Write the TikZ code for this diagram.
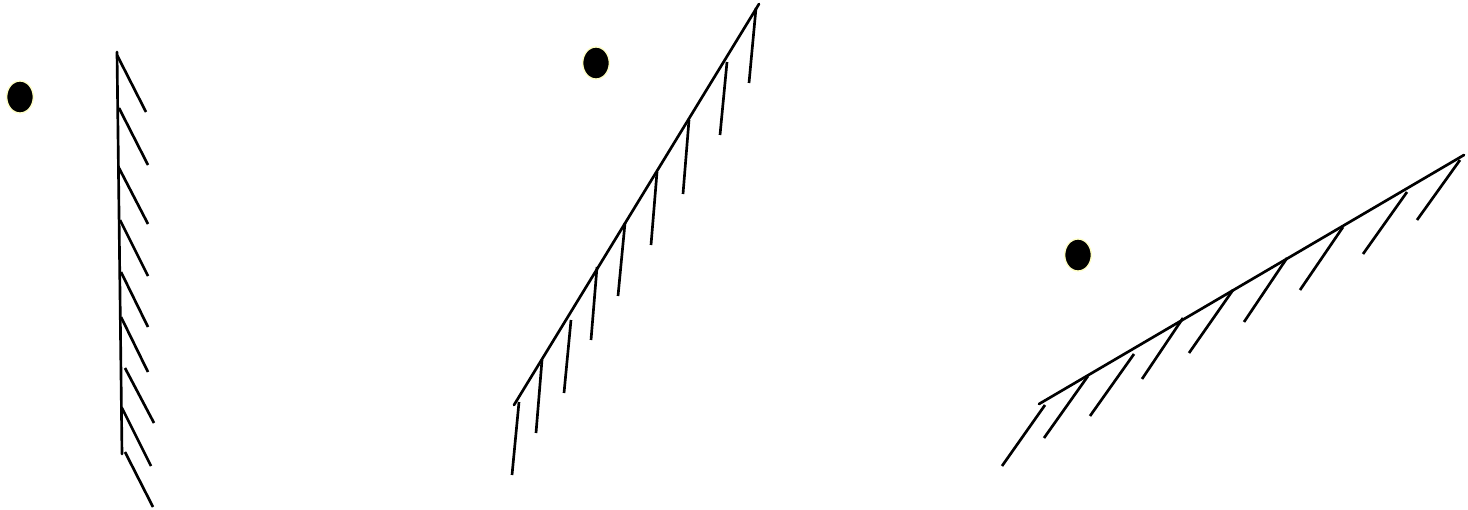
\documentclass[tikz,border=0pt]{standalone}
\usepackage{xcolor}
\usepackage{tikz}
\usetikzlibrary{shapes.geometric}

\definecolor{dotrim}{HTML}{FFFFC4}

\begin{document}
\begin{tikzpicture}[
    x=0.75pt, y=-0.75pt,
    mirror/.style={line width=2pt, line cap=round},
    hatch/.style={line width=2pt},
    dot/.style={ellipse, fill=black, draw=dotrim, line width=1pt, inner sep=0pt, minimum width=20pt, minimum height=24pt}
]
\useasboundingbox (0,0) rectangle (1468,510);

% point sources
\node[dot] (obj1) at (20,97) {};
\node[dot] (obj2) at (596,63) {};
\node[dot] (obj3) at (1078,255) {};

% vertical mirror
\draw[mirror] (117,52) -- (122,454);
\foreach \a/\b/\c/\d in {117/55/146/112, 119/108/148/165, 119/168/148/224,
    120/220/148/276, 121/272/148/327, 121/317/148/372, 125/368/154/423,
    122/408/151/466, 125/452/153/507}
  \draw[hatch] (\a,\b) -- (\c,\d);

% steep mirror
\draw[mirror] (514,405) -- (759,4);
\foreach \a/\b/\c/\d in {519/402/512/475, 542/360/536/433, 571/320/564/393,
    597/267/591/340, 625/223/618/296, 657/172/651/245, 689/120/683/194,
    727/62/720/135, 756/8/749/83}
  \draw[hatch] (\a,\b) -- (\c,\d);

% shallow mirror
\draw[mirror] (1039,404) -- (1464,155);
\foreach \a/\b/\c/\d in {1045/405/1002/466, 1088/376/1044/438, 1134/354/1090/416,
    1183/318/1142/379, 1233/290/1189/353, 1287/258/1244/322, 1343/227/1300/290,
    1407/192/1363/254, 1460/160/1417/220}
  \draw[hatch] (\a,\b) -- (\c,\d);
\end{tikzpicture}
\end{document}
